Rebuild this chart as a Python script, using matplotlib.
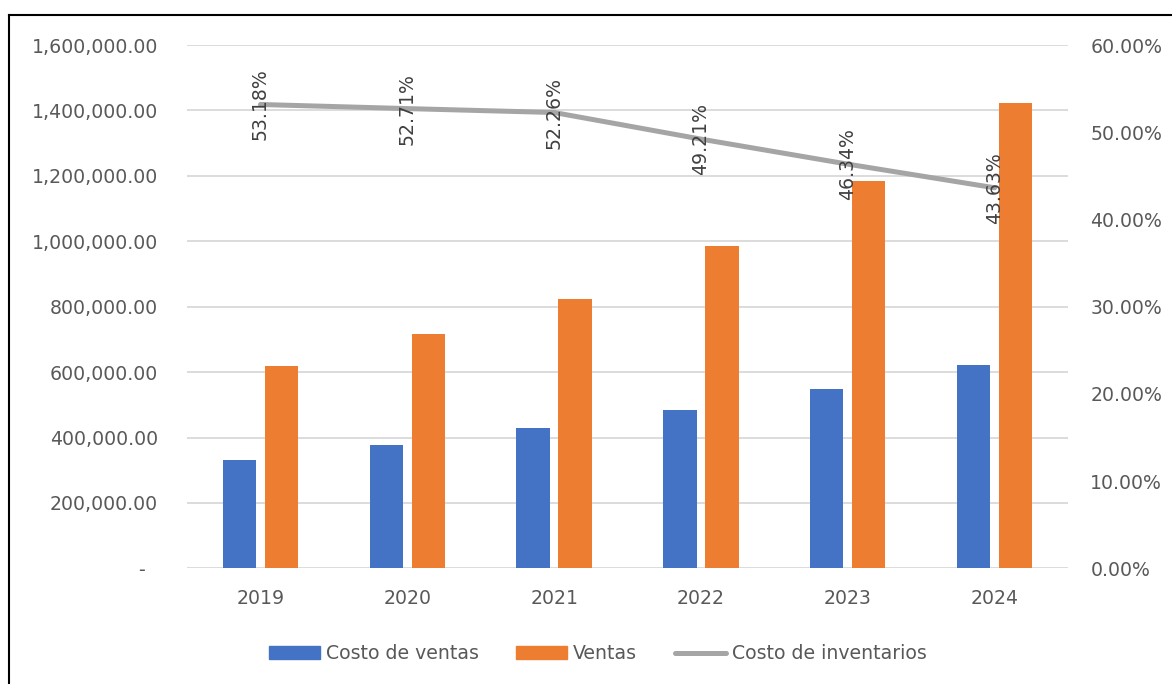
import matplotlib.pyplot as plt
import numpy as np
from matplotlib.lines import Line2D
from matplotlib.patches import Patch
from matplotlib.ticker import FuncFormatter, MultipleLocator

years = ['2019', '2020', '2021', '2022', '2023', '2024']
costo_ventas = [329700, 376900, 429600, 485200, 549100, 620400]
ventas = [620000, 715000, 822000, 986000, 1185000, 1422000]
costo_inventarios = [53.18, 52.71, 52.26, 49.21, 46.34, 43.63]

BLUE = '#4472C4'
ORANGE = '#ED7D31'
GRAY = '#A5A5A5'
TEXT = '#595959'
GRID = '#D9D9D9'

plt.rcParams['font.family'] = ['DejaVu Sans']
plt.rcParams['font.size'] = 13.6

fig = plt.figure(figsize=(11.72, 6.84), dpi=100)
ax = fig.add_axes([0.1596, 0.1691, 0.7517, 0.7651])
ax2 = ax.twinx()

x = np.arange(len(years))
bar_w = 0.227
ax.bar(x - 0.143, costo_ventas, width=bar_w, color=BLUE, zorder=2)
ax.bar(x + 0.143, ventas, width=bar_w, color=ORANGE, zorder=2)

# left axis: amounts
ax.set_xlim(-0.5, len(years) - 0.5)
ax.set_ylim(0, 1600000)
ax.yaxis.set_major_locator(MultipleLocator(200000))
ax.yaxis.set_major_formatter(FuncFormatter(lambda v, _: '-  ' if v == 0 else f'{v:,.2f}'))
ax.set_xticks(x)
ax.set_xticklabels(years)
ax.grid(axis='y', color=GRID, linewidth=1.3, zorder=0)
ax.set_axisbelow(True)
ax.tick_params(axis='y', length=0, pad=21, colors=TEXT)
ax.tick_params(axis='x', length=0, pad=15, colors=TEXT)

# right axis: percentage line
ax2.plot(x, costo_inventarios, color=GRAY, linewidth=3.6,
         solid_capstyle='round', solid_joinstyle='round', zorder=3)
for xi, v in zip(x, costo_inventarios):
    ax2.text(xi, v, f'{v:.2f}%', rotation=90, ha='center', va='center',
             color='#404040', fontsize=13.6)
ax2.set_ylim(0, 60)
ax2.yaxis.set_major_locator(MultipleLocator(10))
ax2.yaxis.set_major_formatter(FuncFormatter(lambda v, _: f'{v:.2f}%'))
ax2.tick_params(axis='y', length=0, pad=16, colors=TEXT)

for a in (ax, ax2):
    for s in a.spines.values():
        s.set_visible(False)

handles = [
    Patch(color=BLUE, label='Costo de ventas'),
    Patch(color=ORANGE, label='Ventas'),
    Line2D([0], [0], color=GRAY, linewidth=3.6, solid_capstyle='round',
           label='Costo de inventarios'),
]
fig.legend(handles=handles, loc='center', bbox_to_anchor=(0.510, 0.0439),
           ncol=3, frameon=False, handlelength=2.7, handletextpad=0.3,
           columnspacing=2.0, labelcolor=TEXT, fontsize=13.6)

# outer frame (left and top edges)
fig.add_artist(Line2D([9 / 1172, 9 / 1172], [0, 1 - 15 / 684],
                      transform=fig.transFigure, color='black', linewidth=1.5))
fig.add_artist(Line2D([9 / 1172, 1], [1 - 15 / 684, 1 - 15 / 684],
                      transform=fig.transFigure, color='black', linewidth=1.5))

fig.savefig('out.png', dpi=100)
